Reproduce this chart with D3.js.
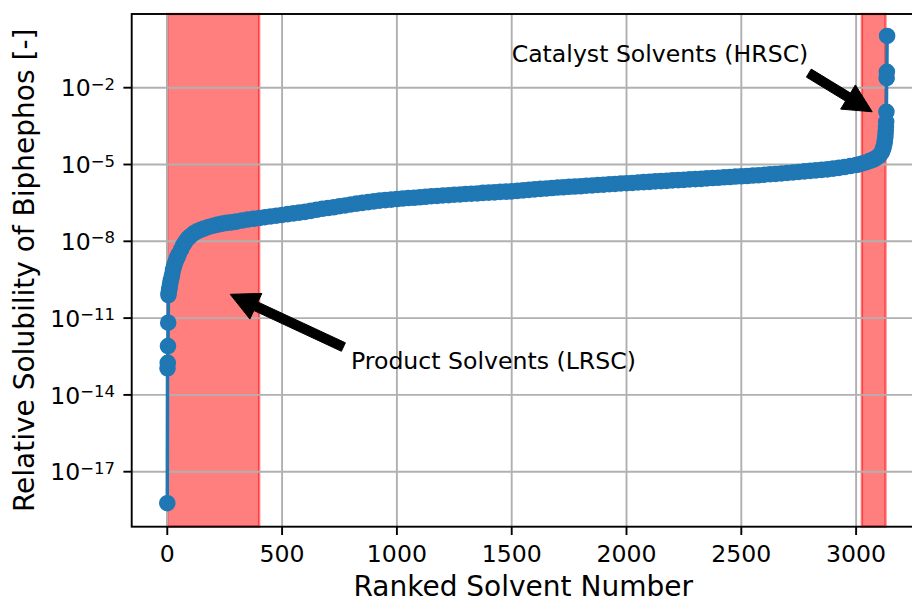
<!DOCTYPE html>
<html><head><meta charset="utf-8">
<script src="https://cdn.jsdelivr.net/npm/d3@7"></script>
<style>body{margin:0;background:#fff}svg{display:block;font-family:"DejaVu Sans",sans-serif}</style>
</head><body><svg id="c" width="912" height="601"></svg>
<script>
// ranked solvent number and log10 of relative solubility
const ranks = [0,1,2,3,4,5,6,8,10,12,15,18,21,25,30,35,40,45,50,60,70,80,90,100,115,130,145,160,180,200,220,240,260,280,300,
325,350,375,400,425,450,475,500,525,550,575,600,625,650,675,700,725,750,775,800,825,850,875,900,925,950,975,1000,
1025,1050,1075,1100,1125,1150,1175,1200,1225,1250,1275,1300,1325,1350,1375,1400,1425,1450,1475,1500,
1525,1550,1575,1600,1625,1650,1675,1700,1725,1750,1775,1800,1825,1850,1875,1900,1925,1950,1975,2000,
2025,2050,2075,2100,2125,2150,2175,2200,2225,2250,2275,2300,2325,2350,2375,2400,2425,2450,2475,2500,
2525,2550,2575,2600,2625,2650,2675,2700,2725,2750,2775,2800,2825,2850,2875,2900,2925,2950,2975,3000,
3015,3030,3045,3060,3075,3085,3095,3102,3108,3113,3117,3120,3123,3125,3127,3128,3129,3130,3131,3132,3133,3134,3135];
const log10Solubility = [-18.23,-12.96,-12.75,-12.09,-11.18,-10.10,-10.00,-9.90,-9.80,-9.68,-9.55,-9.42,-9.30,-9.12,-8.95,-8.82,-8.70,-8.60,-8.50,-8.32,-8.14,-8.00,-7.89,-7.80,-7.69,-7.61,-7.55,-7.50,-7.44,-7.39,-7.35,-7.31,-7.28,-7.26,-7.23,
-7.19,-7.15,-7.12,-7.09,-7.06,-7.03,-7.00,-6.97,-6.94,-6.91,-6.88,-6.85,-6.81,-6.77,-6.73,-6.70,-6.67,-6.63,-6.60,-6.56,-6.53,-6.50,-6.47,-6.44,-6.41,-6.39,-6.37,-6.35,
-6.33,-6.31,-6.30,-6.28,-6.26,-6.24,-6.23,-6.21,-6.20,-6.18,-6.17,-6.15,-6.14,-6.13,-6.11,-6.10,-6.09,-6.07,-6.06,-6.05,
-6.03,-6.01,-5.99,-5.97,-5.95,-5.94,-5.92,-5.90,-5.89,-5.87,-5.86,-5.85,-5.83,-5.82,-5.80,-5.79,-5.77,-5.76,-5.74,-5.73,
-5.72,-5.70,-5.69,-5.68,-5.66,-5.65,-5.64,-5.62,-5.61,-5.60,-5.58,-5.57,-5.56,-5.54,-5.53,-5.52,-5.50,-5.49,-5.47,-5.46,
-5.45,-5.43,-5.42,-5.40,-5.38,-5.37,-5.35,-5.33,-5.31,-5.29,-5.27,-5.25,-5.23,-5.21,-5.19,-5.16,-5.13,-5.10,-5.06,-5.02,
-4.99,-4.95,-4.91,-4.86,-4.81,-4.76,-4.70,-4.64,-4.57,-4.49,-4.40,-4.31,-4.20,-4.08,-3.95,-3.82,-3.68,-3.52,-3.33,-2.94,-1.63,-1.38,0.02];

const xTicks = [0,500,1000,1500,2000,2500,3000];
const yTickExponents = [-2,-5,-8,-11,-14,-17];
const xLimits = [-155, 3290];
const yLimitExponents = [-19.148, 0.879];
const spanStarts = [0, 3025];
const spanEnds = [400, 3128];
const annotationLabels = ["Product Solvents (LRSC)", "Catalyst Solvents (HRSC)"];
const annotationTextX = [800, 1500];
const annotationTextExp = [-13, -1];
const arrowTailX = [767, 2794];
const arrowTailExp = [-12.13, -1.43];
const arrowTipX = [274, 3070];
const arrowTipExp = [-10.07, -2.94];
const xLabel = "Ranked Solvent Number";
const yLabel = "Relative Solubility of Biphephos [-]";

const svg = d3.select("#c");
const L = 131.7, T = 14, R = 922.7, B = 526.7;
const x = d3.scaleLinear().domain(xLimits).range([L, R]);
const y = d3.scaleLog().domain(yLimitExponents.map(e => Math.pow(10, e))).range([B, T]);
const data = ranks.map((r, i) => ({r, v: Math.pow(10, log10Solubility[i])}));

// spans
svg.append("g").selectAll("rect").data(spanStarts).join("rect")
  .attr("x", (d) => x(d)).attr("y", T)
  .attr("width", (d, i) => x(spanEnds[i]) - x(d)).attr("height", B - T)
  .attr("fill", "red").attr("fill-opacity", 0.5)
  .attr("stroke", "red").attr("stroke-opacity", 0.5).attr("stroke-width", 2.4);

// grid
const grid = svg.append("g").attr("stroke", "#b0b0b0").attr("stroke-width", 1.9);
grid.selectAll(".gx").data(xTicks).join("line")
  .attr("x1", d => x(d)).attr("x2", d => x(d)).attr("y1", T).attr("y2", B);
grid.selectAll(".gy").data(yTickExponents).join("line")
  .attr("x1", L).attr("x2", R).attr("y1", d => y(Math.pow(10, d))).attr("y2", d => y(Math.pow(10, d)));

// annotations text
svg.append("g").selectAll("text").data(annotationLabels).join("text")
  .attr("x", (d, i) => x(annotationTextX[i]))
  .attr("y", (d, i) => y(Math.pow(10, annotationTextExp[i])))
  .attr("font-size", 23.6).attr("fill", "#000").text(d => d);

// clip
svg.append("clipPath").attr("id", "clip").append("rect")
  .attr("x", L).attr("y", T).attr("width", R - L).attr("height", B - T);
const plot = svg.append("g").attr("clip-path", "url(#clip)");
plot.append("path").datum(data)
  .attr("d", d3.line().x(d => x(d.r)).y(d => y(d.v)))
  .attr("fill", "none").attr("stroke", "#1f77b4").attr("stroke-width", 3.5).attr("stroke-linejoin", "round");
plot.append("g").selectAll("circle").data(data).join("circle")
  .attr("cx", d => x(d.r)).attr("cy", d => y(d.v)).attr("r", 7.1)
  .attr("fill", "#1f77b4").attr("stroke", "#1f77b4").attr("stroke-width", 2.4);

// arrows
const hl = 28.3, hw = 28.3, sw = 9.4;
svg.append("g").selectAll("path").data(arrowTipX).join("path")
  .attr("d", (d, i) => {
    const tx = x(arrowTailX[i]), ty = y(Math.pow(10, arrowTailExp[i]));
    const px = x(d), py = y(Math.pow(10, arrowTipExp[i]));
    const len = Math.hypot(px - tx, py - ty);
    const ux = (px - tx) / len, uy = (py - ty) / len;
    const nx = -uy, ny = ux;
    const bx = px - ux * hl, by = py - uy * hl;
    const pts = [
      [tx + nx * sw / 2, ty + ny * sw / 2],
      [bx + nx * sw / 2, by + ny * sw / 2],
      [bx + nx * hw / 2, by + ny * hw / 2],
      [px, py],
      [bx - nx * hw / 2, by - ny * hw / 2],
      [bx - nx * sw / 2, by - ny * sw / 2],
      [tx - nx * sw / 2, ty - ny * sw / 2]
    ];
    return "M" + pts.map(p => p.join(",")).join("L") + "Z";
  })
  .attr("fill", "#000").attr("stroke", "#000").attr("stroke-width", 1);

// spines
const sp = svg.append("g").attr("stroke", "#000").attr("stroke-width", 1.9).attr("fill", "none");
sp.append("rect").attr("x", L).attr("y", T).attr("width", R - L).attr("height", B - T);

// ticks
const tk = svg.append("g").attr("stroke", "#000").attr("stroke-width", 1.9);
tk.selectAll(".tx").data(xTicks).join("line")
  .attr("x1", d => x(d)).attr("x2", d => x(d)).attr("y1", B).attr("y2", B + 8.3);
tk.selectAll(".ty").data(yTickExponents).join("line")
  .attr("y1", d => y(Math.pow(10, d))).attr("y2", d => y(Math.pow(10, d))).attr("x1", L).attr("x2", L - 8.3);

svg.append("g").selectAll("text").data(xTicks).join("text")
  .attr("x", d => x(d)).attr("y", 561.5).attr("text-anchor", "middle")
  .attr("font-size", 23.6).text(d => d);

const yl = svg.append("g").selectAll("text").data(yTickExponents).join("text")
  .attr("x", L - 8.3 - 8.3).attr("y", d => y(Math.pow(10, d)) + 8.6)
  .attr("text-anchor", "end").attr("font-size", 23.6);
yl.append("tspan").text("10");
yl.append("tspan").attr("font-size", 16.5).attr("dy", -6.5).text(d => "\u2212" + Math.abs(d));

svg.append("text").attr("x", (L + R) / 2 - 4).attr("y", 595.5).attr("text-anchor", "middle")
  .attr("font-size", 28).text(xLabel);
svg.append("text").attr("transform", `translate(34,${(T + B) / 2}) rotate(-90)`)
  .attr("text-anchor", "middle").attr("font-size", 28).text(yLabel);
</script></body></html>
